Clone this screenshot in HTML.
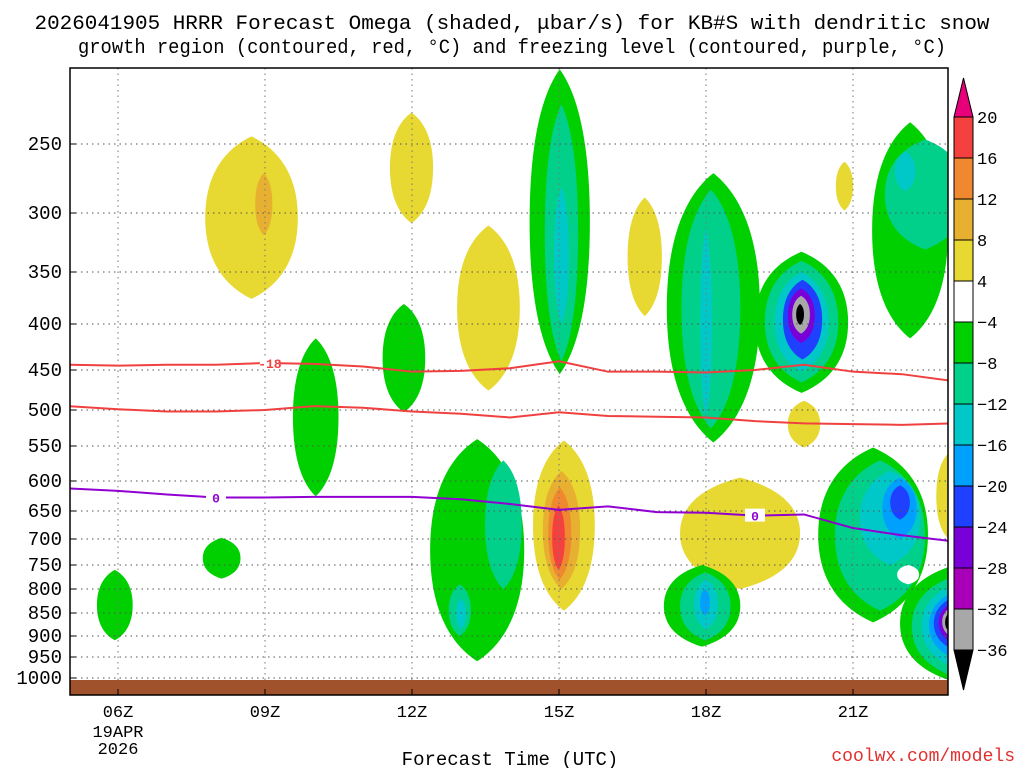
<!DOCTYPE html>
<html><head><meta charset="utf-8"><style>
body{margin:0;background:#fff;width:1024px;height:768px;overflow:hidden;font-family:"Liberation Mono",monospace}
svg text{font-family:"Liberation Mono",monospace}
</style></head><body>
<svg id="c" width="1024" height="768" xmlns="http://www.w3.org/2000/svg">
<text x="512" y="29" font-size="20.5" text-anchor="middle" fill="#000" textLength="955" lengthAdjust="spacingAndGlyphs">2026041905 HRRR Forecast Omega (shaded, μbar/s) for KB#S with dendritic snow</text>
<text x="512" y="53" font-size="20.5" text-anchor="middle" fill="#000" textLength="868" lengthAdjust="spacingAndGlyphs">growth region (contoured, red, °C) and freezing level (contoured, purple, °C)</text>
<text x="510" y="765" font-size="19" text-anchor="middle">Forecast Time (UTC)</text>
<text x="1015" y="761" font-size="18" text-anchor="end" fill="#e03030">coolwx.com/models</text>
<defs><clipPath id="pc"><rect x="70" y="68" width="878" height="627"/></clipPath></defs>
<g id="plot" clip-path="url(#pc)"></g>
<g id="axes"></g>
<g id="cbar"></g>
</svg>
<script>
// axis tables
const pTicks=[200,250,300,350,400,450,500,550,600,650,700,750,800,850,900,950,1000,1050];
const pTickY=[60,144,213,272,324,370,410,446,481,511,539,565,589,613,636,657,678,698];
const xTickLabels=['06Z','09Z','12Z','15Z','18Z','21Z'];
const xTickHours=[6,9,12,15,18,21];
// level colors
const levelNames=['y','o1','o2','r','g','t','c','s','b','p','m','gr','k','w'];
const levelColors=['#e8d832','#e8b030','#f08830','#f54040','#00d000','#00d08a','#00c8c8','#00a0ff','#2040ff','#7a00d8','#a800b8','#a8a8a8','#000000','#ffffff'];
// blobs: [level, t0, t1, p0, p1]
const blobs=[
['y',7.78,9.67,245,375],['o1',8.8,9.15,270,318],
['y',11.55,12.43,230,308],
['y',12.92,14.2,310,475],
['y',16.4,17.1,288,392],
['y',20.65,21.0,262,298],
['y',14.47,15.73,542,845],['o1',14.67,15.43,585,800],['o2',14.78,15.25,610,780],['r',14.86,15.12,640,760],
['y',17.47,19.92,595,800],
['y',19.67,20.33,488,552],
['y',22.7,23.2,560,700],
['g',5.57,6.3,760,910],
['g',7.73,8.5,698,778],
['g',9.57,10.5,415,625],
['g',11.4,12.27,380,503],
['g',14.4,15.63,205,455],['t',14.71,15.39,225,440],['c',14.9,15.2,280,400],
['g',12.37,14.29,540,960],['t',13.49,14.24,570,800],['t',12.75,13.2,790,900],['c',12.9,13.1,820,885],
['g',17.2,19.1,270,545],['t',17.5,18.7,282,525],['c',17.88,18.12,312,510],
['g',19.0,20.9,332,478],['t',19.2,20.7,340,465],['c',19.4,20.5,350,452],['b',19.57,20.37,357,438],['p',19.67,20.22,365,420],['gr',19.76,20.12,372,410],['k',19.84,20.0,380,401],
['g',17.14,18.7,750,925],['t',17.47,18.5,765,910],['c',17.76,18.24,780,885],['s',17.88,18.08,800,855],
['g',21.39,22.94,236,415],['t',21.65,23.3,247,330],['c',21.86,22.27,255,283],
['g',20.29,22.53,552,870],['t',20.63,22.47,570,845],['c',21.14,22.37,585,750],['s',21.6,22.3,595,700],['b',21.76,22.16,607,665],
['g',21.96,24.2,750,1010],['t',22.2,24.1,770,1000],['c',22.4,24,785,980],['s',22.55,23.9,800,960],['b',22.65,23.8,810,940],['p',22.75,23.7,820,925],['gr',22.82,23.5,830,910],['k',22.88,23.2,845,895],
['w',21.9,22.35,750,790]
];
// contour lines (hours, pressure)
const lineHours=[5,6,7,8,9,10,11,12,13,14,15,16,17,18,19,20,21,22,23];
const redTop=[444,445,444,444,442,443,446,452,451,448,440,452,452,453,450,444,452,455,463];
const redBot=[495,499,502,502,500,495,497,502,505,510,503,508,509,510,515,518,519,520,518];
const freezing=[612,616,622,627,627,626,626,626,630,638,648,642,652,653,658,656,680,693,704];

const NS='http://www.w3.org/2000/svg';
function xs(t){return 118+(t-6)*49;}
function ys(p){for(let i=0;i<pTicks.length-1;i++){if(p<=pTicks[i+1]){const a=Math.log(pTicks[i]),b=Math.log(pTicks[i+1]);return pTickY[i]+(Math.log(p)-a)/(b-a)*(pTickY[i+1]-pTickY[i]);}}return 698;}
function mk(tag,attrs,parent){const e=document.createElementNS(NS,tag);for(const k in attrs)e.setAttribute(k,attrs[k]);parent.appendChild(e);return e;}
const plot=document.getElementById('plot'),axes=document.getElementById('axes'),cbar=document.getElementById('cbar');

blobs.forEach(b=>{
 const x0=xs(b[1]),x1=xs(b[2]),y0=ys(b[3]),y1=ys(b[4]);
 const cx=(x0+x1)/2,cy=(y0+y1)/2,rx=(x1-x0)/2,ry=(y1-y0)/2;
 // teardrop-ish rounded shape: pointed top/bottom
 const d=`M${cx},${y0} C${cx+rx*0.55},${y0+ry*0.15} ${x1},${cy-ry*0.55} ${x1},${cy} C${x1},${cy+ry*0.55} ${cx+rx*0.55},${y1-ry*0.15} ${cx},${y1} C${cx-rx*0.55},${y1-ry*0.15} ${x0},${cy+ry*0.55} ${x0},${cy} C${x0},${cy-ry*0.55} ${cx-rx*0.55},${y0+ry*0.15} ${cx},${y0}Z`;
 const e=mk('path',{d:d,fill:levelColors[levelNames.indexOf(b[0])]},plot);
 
 
});
// grid
xTickHours.forEach(h=>{const l=mk('line',{x1:xs(h),x2:xs(h),y1:68,y2:695,stroke:'#777','stroke-dasharray':'1.5,4'},plot);
 
 });
pTicks.forEach((p,i)=>{if(p<250||p>1000)return;const l=mk('line',{x1:70,x2:948,y1:pTickY[i],y2:pTickY[i],stroke:'#555','stroke-dasharray':'1.5,4'},plot);
 
 });
function pline(vals,color,name){const pts=lineHours.map((h,i)=>xs(h)+','+ys(vals[i])).join(' ');
 const l=mk('polyline',{points:pts,fill:'none',stroke:color,'stroke-width':2},plot);
 
 }
pline(redTop,'#f04040','dgz-top-line');
pline(redBot,'#f04040','dgz-bottom-line');
pline(freezing,'#9000d0','freezing-level-line');
function lab(t,vals,txt,color,name){const i=lineHours.indexOf(Math.floor(t));const p=vals[i]+(vals[i+1]-vals[i])*(t-Math.floor(t));
 mk('rect',{x:xs(t)-10,y:ys(p)-7,width:20,height:13,fill:'#fff'},plot);
 const e=mk('text',{x:xs(t),y:ys(p)+5,'font-size':13,'font-weight':'bold','text-anchor':'middle',fill:color},plot);e.textContent=txt;
 
 }
lab(9.1,redTop,'-18','#f04040','dgz-label');
lab(8.0,freezing,'0','#9000d0','freezing-label-1');
lab(19.0,freezing,'0','#9000d0','freezing-label-2');
// ground
const g=mk('rect',{x:70,y:680,width:878,height:15,fill:'#a0522d'},plot);


// frame
const fr=mk('rect',{x:70,y:68,width:878,height:627,fill:'none',stroke:'#000','stroke-width':1.5},axes);


pTicks.forEach((p,i)=>{if(p<250||p>1000)return;const t=mk('text',{x:62,y:pTickY[i]+6,'font-size':19,'text-anchor':'end'},axes);t.textContent=p;
 
 
 mk('line',{x1:70,x2:76,y1:pTickY[i],y2:pTickY[i],stroke:'#000'},axes);});
xTickHours.forEach((h,i)=>{const t=mk('text',{x:xs(h),y:717,'font-size':17,'text-anchor':'middle'},axes);t.textContent=xTickLabels[i];
 
 
 mk('line',{x1:xs(h),x2:xs(h),y1:695,y2:689,stroke:'#000'},axes);});
['19APR','2026'].forEach((s,i)=>{const t=mk('text',{x:118,y:737+i*17,'font-size':17,'text-anchor':'middle'},axes);t.textContent=s;
 
 });
// colorbar
const cbLabels=['20','16','12','8','4','−4','−8','−12','−16','−20','−24','−28','−32','−36'];
const cbColors=['#f54040','#f08830','#e8b030','#e8d832','#ffffff','#00d000','#00d08a','#00c8c8','#00a0ff','#2040ff','#7a00d8','#a800b8','#a8a8a8'];
const cbX=954,cbW=19,cbY0=117,cbH=41;
const tt=mk('polygon',{points:`${cbX},${cbY0} ${cbX+cbW},${cbY0} ${cbX+cbW/2},78`,fill:'#e8007a',stroke:'#000'},cbar);


cbColors.forEach((c,i)=>{const r=mk('rect',{x:cbX,y:cbY0+i*cbH,width:cbW,height:cbH,fill:c,stroke:'#000'},cbar);
 
 });
const yb=cbY0+cbColors.length*cbH;
const bt=mk('polygon',{points:`${cbX},${yb} ${cbX+cbW},${yb} ${cbX+cbW/2},690`,fill:'#000',stroke:'#000'},cbar);


cbLabels.forEach((s,i)=>{const t=mk('text',{x:cbX+cbW+4,y:cbY0+i*cbH+6,'font-size':17},cbar);t.textContent=s;
 
 });
</script>
</body></html>
